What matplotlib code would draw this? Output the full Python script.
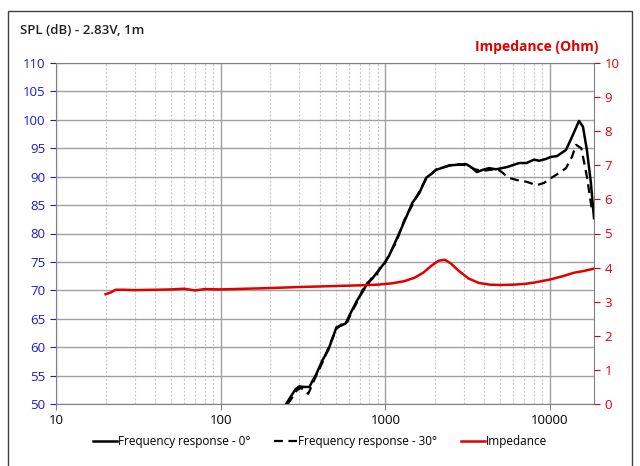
import numpy as np
import matplotlib.pyplot as plt
from matplotlib.patches import Rectangle
from matplotlib.ticker import FixedLocator, NullFormatter

plt.rcParams['font.family'] = ['Open Sans', 'DejaVu Sans']
plt.rcParams['font.size'] = 9

# frequency response 0 deg
f0 = [250, 265, 285, 300, 320, 346, 360, 380, 415, 450, 505, 540, 575, 620, 676, 730, 778,
      830, 882, 940, 986, 1050, 1166, 1300, 1459, 1607, 1771, 2040, 2443, 2800, 3100,
      3350, 3600, 3900, 4260, 4700, 5100, 5500, 5900, 6500, 7200, 8000, 8600, 9400, 10200,
      11000, 12500, 13600, 15000, 15850, 16750, 17700, 18500]
spl0 = [50, 51.2, 52.6, 53.1, 53.0, 53.0, 54.0, 55.2, 57.7, 59.5, 63.5, 63.8, 64.2, 66.2,
        68.3, 69.8, 71.3, 72.0, 73.0, 74.0, 74.8, 76.0, 78.9, 82.0, 85.4, 87.1, 89.8, 91.2,
        92.0, 92.1, 92.2, 91.6, 90.8, 91.2, 91.5, 91.3, 91.5, 91.7, 92.0, 92.4, 92.4, 93.0,
        92.8, 93.1, 93.5, 93.6, 94.7, 97.0, 99.8, 98.8, 94.7, 89.0, 82.7]

# frequency response 30 deg
f30 = [255, 270, 290, 305, 325, 340, 355, 375, 415, 450, 505, 540, 575, 620, 676, 730, 778,
       830, 882, 940, 986, 1050, 1166, 1300, 1459, 1607, 1771, 2040, 2443, 2800, 3100,
       3500, 3900, 4300, 4800, 5100, 5600, 6300, 7200, 8300, 9200, 10200, 11300, 12500,
       13600, 14400, 15500, 16750, 18000]
spl30 = [50, 51.0, 52.4, 52.8, 52.5, 51.8, 53.0, 54.6, 57.3, 59.8, 63.2, 64.0, 63.8, 66.0,
         68.0, 70.2, 70.8, 72.3, 72.6, 74.3, 74.5, 76.2, 78.5, 82.3, 85.0, 87.4, 89.6, 91.3,
         91.9, 92.2, 92.0, 91.3, 91.0, 91.2, 91.3, 90.8, 89.8, 89.4, 89.1, 88.5, 88.9, 89.8,
         90.6, 91.5, 93.5, 95.6, 95.0, 90.0, 84.0]

# impedance
fz = [20, 21.5, 23, 26, 30, 40, 50, 60, 70, 80, 100, 200, 300, 500, 700, 900, 1100, 1300,
      1500, 1700, 1900, 2100, 2300, 2500, 2800, 3200, 3700, 4300, 5000, 6000, 7000, 8000,
      10000, 12000, 14000, 16000, 18500]
zz = [3.22, 3.27, 3.35, 3.35, 3.34, 3.35, 3.36, 3.38, 3.33, 3.37, 3.36, 3.40, 3.43, 3.46,
      3.48, 3.5, 3.54, 3.6, 3.7, 3.85, 4.05, 4.2, 4.23, 4.12, 3.9, 3.68, 3.55, 3.5, 3.49,
      3.5, 3.52, 3.56, 3.65, 3.75, 3.85, 3.9, 3.97]

fig = plt.figure(figsize=(6.4, 4.66), dpi=100)
fig.patches.append(Rectangle((8 / 640, -0.05), 624 / 640, 1 - 11 / 466 + 0.05,
                             transform=fig.transFigure, fill=False, ec='#404040', lw=1))

ax = fig.add_axes([56 / 640, 1 - 404 / 466, 538 / 640, 341 / 466])
ax.set_xscale('log')
ax.set_xlim(10, 18500)
ax.set_ylim(50, 110)
ax.set_yticks(np.arange(50, 111, 5))
ax.xaxis.set_major_locator(FixedLocator([10, 100, 1000, 10000]))
ax.set_xticklabels(['10', '100', '1000', '10000'])
minors = [m * d for d in [10, 100, 1000, 10000] for m in range(2, 10) if m * d < 18500]
ax.xaxis.set_minor_locator(FixedLocator(minors))
ax.xaxis.set_minor_formatter(NullFormatter())
ax.grid(which='major', color='#a0a0a0', lw=1)
ax.grid(which='minor', axis='x', color='#c8c8c8', lw=0.8, ls=(0, (2, 1.5)))
ax.tick_params(axis='y', colors='#1a1acc', length=4, labelsize=9.5)
ax.tick_params(axis='x', which='major', length=4, labelsize=9.5, color='#808080')
ax.tick_params(axis='x', which='minor', length=0)
for s in ax.spines.values():
    s.set_color('#808080')

l0, = ax.plot(f0, spl0, color='black', lw=1.8, label='Frequency response - 0°')
l30, = ax.plot(f30, spl30, color='black', lw=1.6, ls=(0, (4, 2.5)), label='Frequency response - 30°')

ax2 = ax.twinx()
ax2.set_ylim(0, 10)
ax2.set_yticks(range(0, 11))
ax2.tick_params(axis='y', colors='#e00000', length=4, labelsize=9.5)
for s in ax2.spines.values():
    s.set_visible(False)
lz, = ax2.plot(fz, zz, color='#e00000', lw=1.8, label='Impedance')

fig.text(20 / 640, 1 - 30 / 466, 'SPL (dB) - 2.83V, 1m', fontsize=9.5, fontweight='semibold',
         va='center', color='#202020')
fig.text(598 / 640, 1 - 47 / 466, 'Impedance (Ohm)', fontsize=10, fontweight='bold',
         va='center', ha='right', color='#e00000')

fig.legend(handles=[l0, l30, lz], loc='center', bbox_to_anchor=(0.5, 1 - 442 / 466),
           ncol=3, frameon=False, fontsize=8.5, handlelength=2.0, handletextpad=0.1,
           columnspacing=2.0)

fig.savefig('out.png', dpi=100)
